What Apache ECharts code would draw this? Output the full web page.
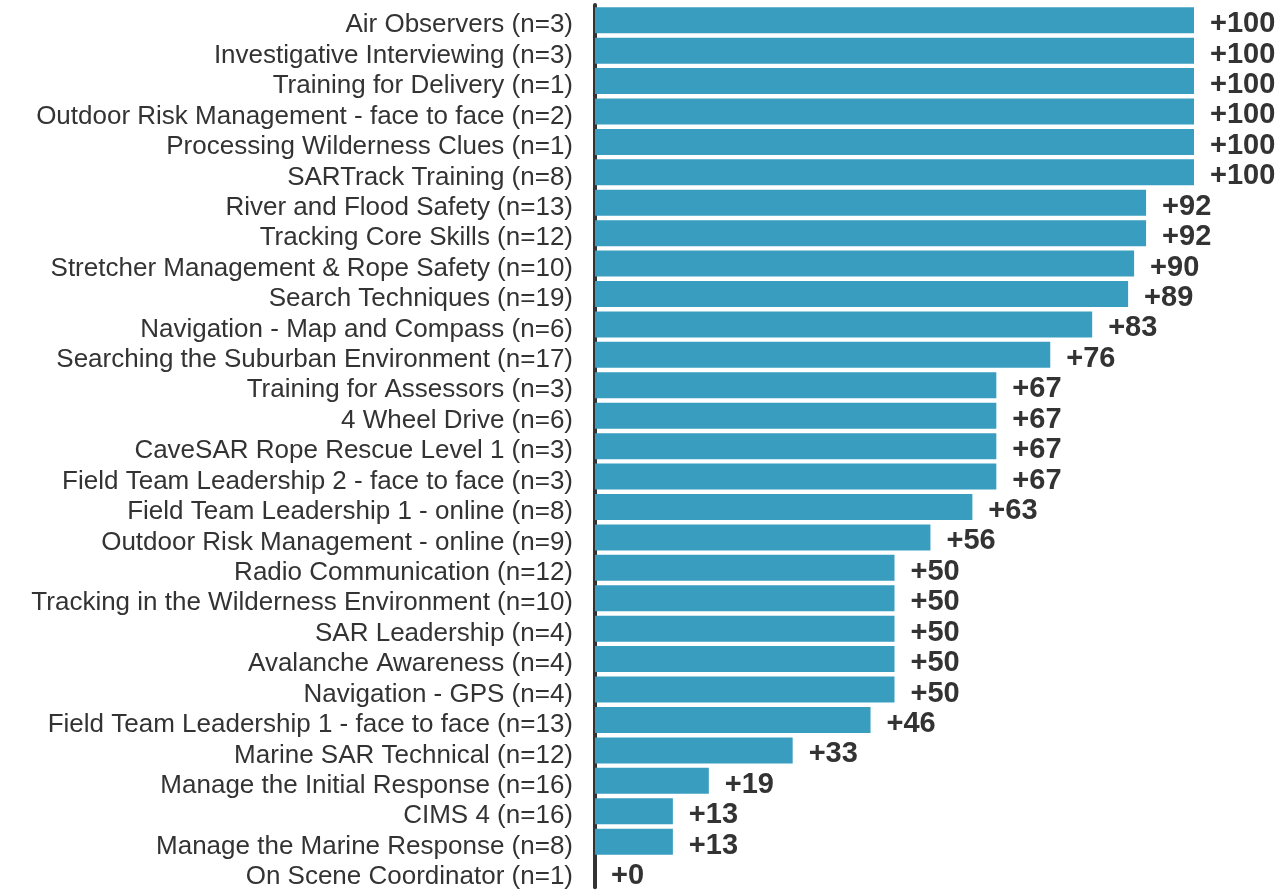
<!DOCTYPE html>
<html>
<head>
<meta charset="utf-8">
<script src="https://cdn.jsdelivr.net/npm/echarts@6/dist/echarts.min.js"></script>
<style>
  html, body { margin: 0; padding: 0; background: #fff; }
  #main { width: 1283px; height: 890px; }
</style>
</head>
<body>
<div id="main"></div>
<script>
// course names (top to bottom)
var courses = [
    'Air Observers (n=3)',
    'Investigative Interviewing (n=3)',
    'Training for Delivery (n=1)',
    'Outdoor Risk Management - face to face (n=2)',
    'Processing Wilderness Clues (n=1)',
    'SARTrack Training (n=8)',
    'River and Flood Safety (n=13)',
    'Tracking Core Skills (n=12)',
    'Stretcher Management & Rope Safety (n=10)',
    'Search Techniques (n=19)',
    'Navigation - Map and Compass (n=6)',
    'Searching the Suburban Environment (n=17)',
    'Training for Assessors (n=3)',
    '4 Wheel Drive (n=6)',
    'CaveSAR Rope Rescue Level 1 (n=3)',
    'Field Team Leadership 2 - face to face (n=3)',
    'Field Team Leadership 1 - online (n=8)',
    'Outdoor Risk Management - online (n=9)',
    'Radio Communication (n=12)',
    'Tracking in the Wilderness Environment (n=10)',
    'SAR Leadership (n=4)',
    'Avalanche Awareness (n=4)',
    'Navigation - GPS (n=4)',
    'Field Team Leadership 1 - face to face (n=13)',
    'Marine SAR Technical (n=12)',
    'Manage the Initial Response (n=16)',
    'CIMS 4 (n=16)',
    'Manage the Marine Response (n=8)',
    'On Scene Coordinator (n=1)'
];

// net score per course
var scores = [
    100, 100, 100, 100, 100, 100, 92, 92, 90, 89, 83, 76, 67, 67, 67, 67,
    63, 56, 50, 50, 50, 50, 50, 46, 33, 19, 13, 13, 0
];

var chart = echarts.init(document.getElementById('main'));

var option = {
    animation: false,
    grid: {
        left: 595,
        top: 5,
        width: 599,
        height: 887,
        containLabel: false
    },
    xAxis: {
        type: 'value',
        min: 0,
        max: 100,
        show: false
    },
    yAxis: {
        type: 'category',
        inverse: true,
        data: courses,
        axisLine: {
            show: true,
            lineStyle: { color: '#333333', width: 4 }
        },
        axisTick: { show: false },
        axisLabel: {
            interval: 0,
            margin: 22,
            fontFamily: 'Arial, "Liberation Sans", sans-serif',
            fontSize: 26,
            color: '#333333',
            formatter: function (v) {
                return '{t|' + v + '}';
            },
            rich: {
                t: {
                    fontFamily: 'Arial, "Liberation Sans", sans-serif',
                    fontSize: 26,
                    color: '#333333',
                    padding: [10, 0, 0, 0]
                }
            }
        }
    },
    series: [
        {
            type: 'bar',
            data: scores,
            barWidth: 26,
            itemStyle: {
                color: '#399dc0'
            },
            label: {
                show: true,
                position: 'right',
                distance: 16,
                offset: [0, 4],
                fontFamily: 'Arial, "Liberation Sans", sans-serif',
                fontSize: 29,
                fontWeight: 'bold',
                color: '#333333',
                formatter: function (p) {
                    return '+' + p.value;
                }
            }
        }
    ]
};

chart.setOption(option);
</script>
</body>
</html>
